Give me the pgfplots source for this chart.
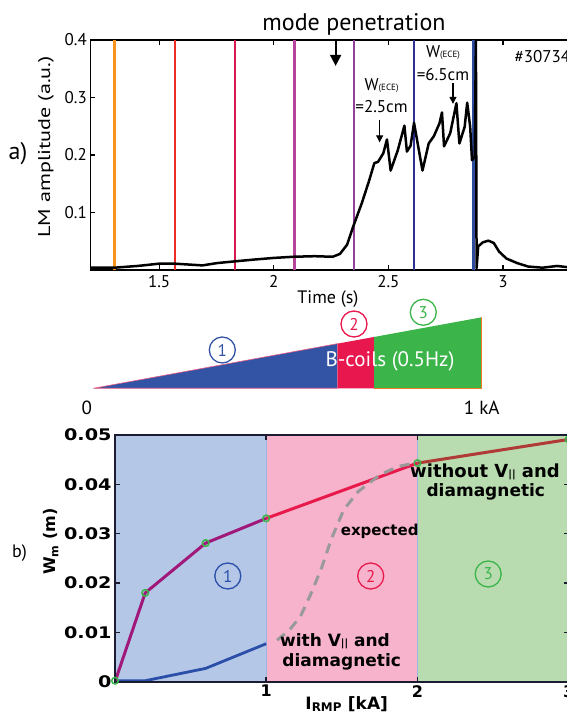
\documentclass[border=0pt]{standalone}
\usepackage{pgfplots}
\pgfplotsset{compat=1.18}
\usetikzlibrary{arrows.meta}
\usepackage{fontspec}
\setmainfont{PT Sans}
\newfontfamily\dvb{DejaVu Sans}
\newcommand\B{\dvb\bfseries}
\definecolor{corange}{HTML}{F7941D}
\definecolor{cred}{HTML}{EE2E24}
\definecolor{ccrim}{HTML}{D6194F}
\definecolor{cmag}{HTML}{B5449A}
\definecolor{cpurp}{HTML}{92409A}
\definecolor{cnavy}{HTML}{2E3192}
\definecolor{cblue}{HTML}{2E4D9E}
\definecolor{rblue}{HTML}{3354A4}
\definecolor{rcrim}{HTML}{E8184F}
\definecolor{rgreen}{HTML}{3BB54A}
\definecolor{redge}{HTML}{F47B20}
\definecolor{sblue}{HTML}{B4C7E7}
\definecolor{spink}{HTML}{F7B3CB}
\definecolor{sgreen}{HTML}{B8DCAF}
\definecolor{sline}{HTML}{9DB5E0}
\definecolor{lmag}{HTML}{A0197A}
\definecolor{lred}{HTML}{E8194B}
\definecolor{lbrown}{HTML}{B03A35}
\definecolor{lblue}{HTML}{2B4FA8}
\definecolor{mgreen}{HTML}{3AB54A}
\definecolor{frame}{HTML}{1C1C30}
\tikzset{cnum/.style={circle, draw, line width=1.3pt, minimum size=26pt, inner sep=0pt, font=\fontsize{17}{17}\selectfont}}
\begin{document}
\begin{tikzpicture}[x=1pt,y=1pt]
\useasboundingbox (0,0) rectangle (567,715);
\clip (0,0) rectangle (567,715);
% ---------------- top panel
\begin{axis}[at={(90.4pt,445pt)}, anchor=south west, scale only axis,
  width=481.3pt, height=230pt, xmin=1.2, xmax=3.3, ymin=0, ymax=0.4,
  xtick={1.5,2,2.5,3}, ytick={0.1,0.2,0.3,0.4},
  tick align=inside, major tick length=5pt,
  axis line style={line width=1.8pt},
  every tick/.style={black, line width=1.2pt},
  tick label style={font=\fontsize{17}{17}\selectfont},
  xticklabel style={yshift=-2pt},
  /pgf/number format/assume math mode=true]
\addplot[corange, line width=2.4pt] coordinates {(1.306,0) (1.306,0.4)};
\addplot[cred, line width=2.4pt] coordinates {(1.568,0) (1.568,0.4)};
\addplot[ccrim, line width=2.4pt] coordinates {(1.830,0) (1.830,0.4)};
\addplot[cmag, line width=2.4pt] coordinates {(2.090,0) (2.090,0.4)};
\addplot[cpurp, line width=2.4pt] coordinates {(2.350,0) (2.350,0.4)};
\addplot[cnavy, line width=2.4pt] coordinates {(2.612,0) (2.612,0.4)};
\addplot[cblue, line width=2.4pt] coordinates {(2.872,0) (2.872,0.4)};
\addplot[black, line width=2.5pt, line join=round] coordinates {
(1.200,0.004) (1.279,0.004) (1.304,0.004) (1.405,0.007) (1.500,0.011)
(1.568,0.011) (1.689,0.008) (1.752,0.012) (1.830,0.015) (1.910,0.018)
(2.000,0.021) (2.085,0.023) (2.178,0.024) (2.257,0.023) (2.289,0.028)
(2.320,0.044) (2.347,0.076) (2.384,0.116) (2.415,0.154) (2.439,0.186)
(2.455,0.188) (2.478,0.203) (2.494,0.227) (2.510,0.173) (2.541,0.208)
(2.570,0.251) (2.581,0.206) (2.597,0.216) (2.612,0.256) (2.628,0.220)
(2.649,0.173) (2.676,0.220) (2.699,0.233) (2.723,0.255) (2.734,0.274)
(2.743,0.215) (2.770,0.238) (2.797,0.290) (2.810,0.220) (2.833,0.249)
(2.844,0.291) (2.857,0.249) (2.865,0.191) (2.877,0.197) (2.882,0.400)
(2.885,0.003) (2.892,0.041) (2.912,0.048) (2.936,0.051) (2.960,0.047)
(2.983,0.032) (3.015,0.020) (3.062,0.012) (3.110,0.006) (3.173,0.004)
(3.236,0.007) (3.280,0.005)};
\draw[-{Triangle[length=11pt,width=11pt]}, line width=1.8pt] (axis cs:2.270,0.4) -- (axis cs:2.270,0.355);
\draw[-{Triangle[length=7pt,width=7pt]}, line width=1.1pt] (axis cs:2.462,0.261) -- (axis cs:2.462,0.222);
\draw[-{Triangle[length=7pt,width=7pt]}, line width=1.1pt] (axis cs:2.782,0.325) -- (axis cs:2.782,0.289);
\end{axis}
\node[font=\fontsize{24}{24}\selectfont] at (354,691) {mode penetration};
\node[font=\fontsize{17}{17}\selectfont] at (381.6,629) {W{\fontsize{9}{9}\selectfont(ECE)}};
\node[font=\fontsize{17}{17}\selectfont] at (381.6,608) {=2.5cm};
\node[font=\fontsize{17}{17}\selectfont] at (443,662) {W{\fontsize{9}{9}\selectfont(ECE)}};
\node[font=\fontsize{17}{17}\selectfont] at (443,640) {=6.5cm};
\node[font=\fontsize{17}{17}\selectfont, anchor=west] at (511,658) {\#30734};
\node[font=\fontsize{24}{24}\selectfont] at (18,561) {a)};
\node[font=\fontsize{17}{17}\selectfont, rotate=90] at (46,568) {\scalebox{1.3}[1]{LM amplitude (a.u.)}};
\node[font=\fontsize{18}{18}\selectfont] at (328,416) {Time (s)};
% ---------------- ramp
\begin{axis}[at={(93.3pt,326.7pt)}, anchor=south west, scale only axis,
  width=388.4pt, height=71pt, xmin=0, xmax=1, ymin=0, ymax=1, hide axis, clip=false]
\addplot[fill=rblue, draw=none] coordinates {(0,0) (0.629,0.629)} \closedcycle;
\addplot[fill=rcrim, draw=none] coordinates {(0.629,0.629) (0.723,0.723)} \closedcycle;
\addplot[fill=rgreen, draw=none] coordinates {(0.723,0.723) (1,1)} \closedcycle;
\addplot[redge, line width=1.2pt] coordinates {(0.723,0) (1,0) (1,1)};
\addplot[rcrim!70, line width=0.6pt] coordinates {(0,0) (0.629,0) (0.629,0.629) (0,0)};
\end{axis}
\node[cnum, draw=rblue, text=rblue] at (222.3,365) {1};
\node[cnum, draw=rcrim, text=rcrim] at (354,391) {2};
\node[cnum, draw=rgreen, text=rgreen] at (423.3,402.7) {3};
\node[font=\fontsize{21}{21}\selectfont, text=white] at (390,353.3) {B-coils (0.5Hz)};
\node[font=\fontsize{19}{19}\selectfont] at (86.7,307) {0};
\node[font=\fontsize{19}{19}\selectfont] at (481.7,307) {1 kA};
% ---------------- bottom panel
\begin{axis}[at={(115pt,33.3pt)}, anchor=south west, scale only axis,
  width=453.6pt, height=246.7pt, xmin=0, xmax=3, ymin=0, ymax=0.05,
  xtick={1,2,3}, ytick={0,0.01,0.02,0.03,0.04,0.05},
  scaled y ticks=false,
  axis on top, tick align=inside, major tick length=5pt,
  axis line style={line width=2pt, frame},
  every tick/.style={frame, line width=1.5pt},
  tick label style={font=\B\fontsize{16}{16}\selectfont},
  yticklabel={\scalebox{1.2}[1]{\pgfmathprintnumber[fixed, precision=2, assume math mode=true]{\tick}}},
  /pgf/number format/assume math mode=true, clip=true]
\addplot[fill=sblue, draw=none] coordinates {(0,0.05) (1,0.05)} \closedcycle;
\addplot[fill=spink, draw=none] coordinates {(1,0.05) (2,0.05)} \closedcycle;
\addplot[fill=sgreen, draw=none] coordinates {(2,0.05) (3,0.05)} \closedcycle;
\addplot[sline, line width=0.8pt] coordinates {(1,0) (1,0.05)};
\addplot[sline, line width=0.8pt] coordinates {(2,0) (2,0.05)};
\addplot[lblue, line width=2.8pt] coordinates {(0,0.0002) (0.2,0.0002) (0.6,0.0027) (1.0,0.0077)};
\addplot[lmag, line width=3pt, line join=round] coordinates {(0,0) (0.2,0.018) (0.6,0.0281) (1.0,0.0331)};
\addplot[lred, line width=3pt] coordinates {(1.0,0.0331) (2.0,0.0443)};
\addplot[lbrown, line width=3pt] coordinates {(2.0,0.0443) (3.0,0.0491)};
\addplot[gray!80, line width=3pt, dash pattern=on 10pt off 7pt] coordinates {
(1.072,0.0084) (1.154,0.0105) (1.226,0.0132) (1.297,0.0179) (1.369,0.0233)
(1.428,0.0287) (1.512,0.0348) (1.607,0.0385) (1.751,0.0419) (1.870,0.0436) (1.98,0.0443)};
\addplot[only marks, mark=o, mark size=3.3pt, mgreen, line width=1.5pt] coordinates {
(0,0.0002) (0.2,0.018) (0.6,0.0281) (1.0,0.0331) (2.0,0.0443) (3.0,0.0491)};
\end{axis}
\node[font=\fontsize{18}{18}\selectfont] at (19.5,162) {b)};
\node[font=\B\fontsize{16}{16}\selectfont, rotate=90] at (51,173.5) {W\textsubscript{m} (m)};
\node[font=\B\fontsize{18}{18}\selectfont] at (485,243.3) {without V{\fontsize{10}{10}\selectfont||} and};
\node[font=\B\fontsize{17}{17}\selectfont] at (485.8,223.3) {diamagnetic};
\node[font=\B\fontsize{15}{15}\selectfont] at (379.7,183.3) {expected};
\node[font=\B\fontsize{17}{17}\selectfont] at (335,73.3) {with V{\fontsize{10}{10}\selectfont||} and};
\node[font=\B\fontsize{17}{17}\selectfont] at (341.7,53.3) {diamagnetic};
\node[cnum, draw=lblue, text=lblue] at (227.8,139) {1};
\node[cnum, draw=lred, text=lred] at (370.7,139) {2};
\node[cnum, draw=mgreen, text=mgreen] at (488.2,141) {3};
\node[font=\B\fontsize{17}{17}\selectfont] at (346.7,11) {I\textsubscript{RMP} [kA]};
\end{tikzpicture}
\end{document}
